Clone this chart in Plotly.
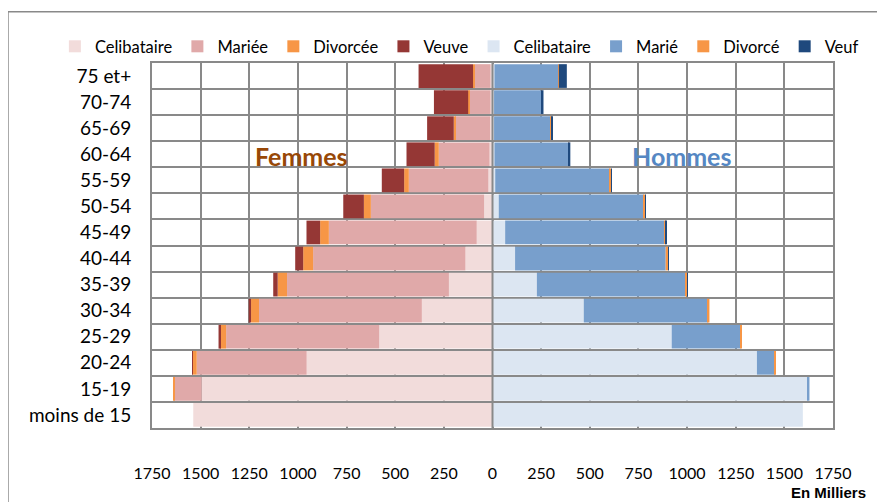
import plotly.graph_objects as go

# ---------------- data (thousands) ----------------
categories = ["75 et+", "70-74", "65-69", "60-64", "55-59", "50-54", "45-49",
              "40-44", "35-39", "30-34", "25-29", "20-24", "15-19", "moins de 15"]

# Femmes
f_celibataire = [10, 10, 12, 15, 21, 43, 81, 139, 224, 363, 582, 955, 1495, 1538]
f_mariee      = [80, 110, 180, 261, 409, 582, 760, 783, 832, 837, 787, 565, 141, 0]
f_divorcee    = [10, 5, 7, 21, 24, 36, 45, 51, 48, 41, 31, 20, 5, 0]
f_veuve       = [280, 176, 137, 145, 115, 106, 70, 41, 23, 12, 8, 2, 0, 0]

# Hommes
h_celibataire = [10, 8, 8, 10, 14, 32, 65, 116, 228, 469, 921, 1359, 1621, 1595]
h_marie       = [329, 242, 291, 381, 589, 746, 817, 774, 762, 637, 354, 92, 8, 0]
h_divorce     = [2, 2, 2, 2, 7, 8, 9, 12, 10, 9, 7, 3, 0, 0]
h_veuf        = [41, 10, 5, 7, 2, 2, 2, 2, 1, 0, 0, 0, 0, 0]

tick_values = [-1750, -1500, -1250, -1000, -750, -500, -250, 0,
               250, 500, 750, 1000, 1250, 1500, 1750]
tick_labels = [str(abs(v)) for v in tick_values]

FONT = "Lato, Carlito, Calibri, sans-serif"
GRID = "#898989"

fig = go.Figure()

women = [("Celibataire", f_celibataire, "#F2DCDB"),
         ("Mariée", f_mariee, "#E0A9A9"),
         ("Divorcée", f_divorcee, "#F79646"),
         ("Veuve", f_veuve, "#953735")]
men = [("Celibataire", h_celibataire, "#DCE6F2"),
       ("Marié", h_marie, "#789FCC"),
       ("Divorcé", h_divorce, "#F79646"),
       ("Veuf", h_veuf, "#1F497D")]

for name, vals, col in women:
    fig.add_trace(go.Bar(
        y=categories, x=[-v for v in vals], orientation="h", name=name,
        marker=dict(color=col, line=dict(width=0)),
        customdata=vals, hovertemplate="%{y}: %{customdata}<extra>" + name + "</extra>"))
for name, vals, col in men:
    fig.add_trace(go.Bar(
        y=categories, x=vals, orientation="h", name=name,
        marker=dict(color=col, line=dict(width=0)),
        hovertemplate="%{y}: %{x}<extra>" + name + "</extra>"))

fig.update_layout(
    width=877, height=494,
    margin=dict(l=144, r=52, t=55, b=73.5, autoexpand=False),
    paper_bgcolor="white", plot_bgcolor="white",
    barmode="relative", bargap=0.09,
    font=dict(family=FONT, size=17, color="#000000"),
    legend=dict(orientation="h", x=-0.1426, xanchor="left", y=1.045, yanchor="middle",
                font=dict(size=16.5, family=FONT), traceorder="normal",
                bgcolor="rgba(0,0,0,0)", itemwidth=30),
    showlegend=True,
)

fig.update_xaxes(
    range=[-1750, 1750], tickvals=tick_values, ticktext=tick_labels,
    showgrid=True, gridcolor=GRID, gridwidth=2, zeroline=False,
    showline=True, linecolor=GRID, linewidth=2, mirror=True, automargin=False,
    ticks="", ticklabelstandoff=30, tickfont=dict(size=16, family=FONT),
)
fig.update_yaxes(
    categoryorder="array", categoryarray=categories, autorange="reversed",
    tickson="boundaries", showgrid=True, gridcolor=GRID, gridwidth=2,
    showline=True, linecolor=GRID, linewidth=2, mirror=True, automargin=False,
    ticks="", ticklabelstandoff=15, tickfont=dict(size=19, family=FONT),
)

# zero line on top of bars
fig.add_shape(type="line", xref="x", yref="paper", x0=0, x1=0, y0=0, y1=1,
              line=dict(color=GRID, width=2), layer="above")

# outer chart frame
fig.add_shape(type="rect", xref="paper", yref="paper",
              x0=-0.2115, x1=1.2, y0=-0.4, y1=1.1405,
              line=dict(color=GRID, width=1.5), layer="below")

fig.add_annotation(text="<b>Femmes</b>", xref="paper", yref="paper",
                   x=0.2188, y=0.746, xanchor="center", yanchor="middle",
                   showarrow=False,
                   font=dict(size=25, color="#984807", family=FONT))
fig.add_annotation(text="<b>Hommes</b>", xref="paper", yref="paper",
                   x=0.778, y=0.746, xanchor="center", yanchor="middle",
                   showarrow=False,
                   font=dict(size=25, color="#5587C3", family=FONT))
fig.add_annotation(text="<b>En Milliers</b>", xref="paper", yref="paper",
                   x=1.0514, xanchor="right", y=-0.178, yanchor="middle",
                   showarrow=False,
                   font=dict(size=15, color="#000000", family="Liberation Sans, Arial, sans-serif"))

fig.write_html("out.html")
